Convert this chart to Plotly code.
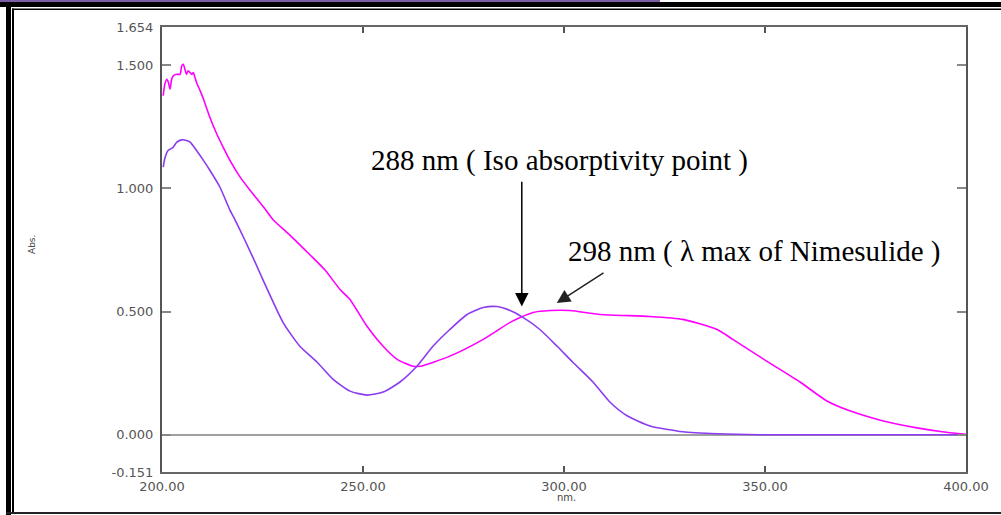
import plotly.graph_objects as go

# ---------------- data ----------------
wl_nimesulide = [200.3, 200.7, 201.2, 201.6, 202.0, 202.4, 202.8, 203.7, 204.5, 204.9,
                 205.3, 205.7, 206.1, 206.5, 207.0, 207.4, 207.8, 208.2, 208.6, 209.5,
                 210.3, 211.9, 213.6, 215.2, 216.9, 219.4, 221.9, 225.2, 227.7, 231.8,
                 236.8, 240.5, 244.3, 246.8, 251.0, 255.0, 258.5, 262.4, 264.2, 271.6,
                 279.9, 286.6, 289.1, 292.3, 296.5, 301.5, 309.0, 321.4, 329.6, 338.1,
                 342.0, 350.5, 358.7, 365.4, 371.1, 379.4, 387.8, 396.0, 400.0]
abs_nimesulide = [1.375, 1.422, 1.442, 1.429, 1.402, 1.442, 1.456, 1.462, 1.462, 1.496,
                  1.503, 1.483, 1.462, 1.476, 1.469, 1.462, 1.469, 1.449, 1.429, 1.395,
                  1.362, 1.288, 1.221, 1.167, 1.113, 1.046, 0.992, 0.925, 0.871, 0.810,
                  0.730, 0.669, 0.589, 0.548, 0.440, 0.359, 0.306, 0.278, 0.278, 0.319,
                  0.387, 0.456, 0.476, 0.496, 0.504, 0.504, 0.488, 0.480, 0.468, 0.427,
                  0.387, 0.298, 0.214, 0.137, 0.097, 0.056, 0.028, 0.008, 0.002]

wl_second = [200.3, 200.7, 201.5, 202.7, 203.7, 204.9, 206.1, 207.0, 208.6, 210.3,
             211.9, 214.4, 216.9, 218.2, 220.6, 223.1, 225.1, 230.1, 234.3, 238.6,
             242.5, 246.8, 251.0, 255.0, 259.2, 263.4, 267.4, 271.6, 275.9, 279.9,
             283.3, 286.6, 289.8, 294.0, 298.3, 302.2, 307.2, 311.4, 315.7, 321.4,
             329.6, 338.1, 348.8, 400.0]
abs_second = [1.086, 1.121, 1.153, 1.165, 1.187, 1.196, 1.194, 1.187, 1.153, 1.113,
              1.073, 1.005, 0.911, 0.871, 0.790, 0.702, 0.629, 0.456, 0.359, 0.294,
              0.226, 0.177, 0.161, 0.173, 0.214, 0.278, 0.359, 0.427, 0.488, 0.516,
              0.520, 0.504, 0.476, 0.427, 0.359, 0.294, 0.214, 0.133, 0.077, 0.036,
              0.012, 0.004, 0.0, 0.0]

x_tick_vals = [200, 250, 300, 350, 400]
x_tick_text = ["200.00", "250.00", "300.00", "350.00", "400.00"]
y_tick_vals = [-0.151, 0.0, 0.5, 1.0, 1.5, 1.654]
y_tick_text = ["-0.151", "0.000", "0.500", "1.000", "1.500", "1.654"]

iso_point = (289.5, 0.520)
iso_label_anchor = (289.5, 1.032)
lmax_point = (298.2, 0.534)
lmax_label_anchor = (310.2, 0.661)

# ---------------- layout helpers ----------------
W, H = 1001, 515
L, R, T, B = 162, 35, 27, 43
PW, PH = W - L - R, H - T - B


def px(xp):
    return (xp - L) / PW


def py(yp):
    return (H - B - yp) / PH


fig = go.Figure()
fig.add_trace(go.Scatter(x=wl_nimesulide, y=abs_nimesulide, mode="lines",
                         line=dict(color="#ff00ff", width=1.6, shape="spline", smoothing=0.6),
                         showlegend=False))
fig.add_trace(go.Scatter(x=wl_second, y=abs_second, mode="lines",
                         line=dict(color="#8c3cf0", width=1.6, shape="spline", smoothing=0.6),
                         showlegend=False))

tick_font = dict(family="DejaVu Sans", size=13, color="#555555")
fig.update_xaxes(range=[200, 400], tickvals=x_tick_vals, ticktext=x_tick_text,
                 showgrid=False, zeroline=False, showline=True, linecolor="#666666",
                 linewidth=2, mirror="ticks", ticks="inside", ticklen=6, tickwidth=2,
                 tickcolor="#555555", tickfont=tick_font, ticklabelstandoff=1)
fig.update_yaxes(range=[-0.151, 1.654], tickvals=y_tick_vals, ticktext=y_tick_text,
                 showgrid=False, zeroline=True, zerolinecolor="#a0a0a0", zerolinewidth=2,
                 showline=True, linecolor="#555555", linewidth=2, mirror="ticks",
                 ticks="inside", ticklen=9, tickwidth=2, tickcolor="#888888",
                 tickfont=tick_font, ticklabelstandoff=4)

shapes = [
    # outer frame decoration
    dict(type="rect", xref="paper", yref="paper", x0=px(0), x1=px(W), y0=py(2), y1=py(7),
         fillcolor="black", line_width=0, layer="above"),
    dict(type="rect", xref="paper", yref="paper", x0=px(0), x1=px(660), y0=py(0), y1=py(2),
         fillcolor="#7b5ea7", line_width=0, layer="above"),
    dict(type="rect", xref="paper", yref="paper", x0=px(12), x1=px(W), y0=py(8.5), y1=py(10),
         fillcolor="black", line_width=0, layer="above"),
    dict(type="rect", xref="paper", yref="paper", x0=px(6), x1=px(11), y0=py(2), y1=py(H),
         fillcolor="black", line_width=0, layer="above"),
    dict(type="rect", xref="paper", yref="paper", x0=px(12), x1=px(14), y0=py(8.5), y1=py(514),
         fillcolor="black", line_width=0, layer="above"),
    dict(type="rect", xref="paper", yref="paper", x0=px(6), x1=px(W), y0=py(512), y1=py(514),
         fillcolor="#222222", line_width=0, layer="above"),
]

serif = dict(family="Liberation Serif", size=29, color="black")
annotations = [
    dict(x=iso_point[0], y=iso_point[1], ax=iso_label_anchor[0], ay=iso_label_anchor[1],
         xref="x", yref="y", axref="x", ayref="y", text="", showarrow=True,
         arrowhead=2, arrowsize=1.8, arrowwidth=1.5, arrowcolor="black"),
    dict(x=lmax_point[0], y=lmax_point[1], ax=lmax_label_anchor[0], ay=lmax_label_anchor[1],
         xref="x", yref="y", axref="x", ayref="y", text="", showarrow=True,
         arrowhead=2, arrowsize=1.8, arrowwidth=1.5, arrowcolor="#222222"),
    dict(x=px(559), y=py(160), xref="paper", yref="paper", showarrow=False,
         xanchor="center", yanchor="middle",
         text="288 nm ( Iso absorptivity point )", font=serif),
    dict(x=px(566), y=py(251), xref="paper", yref="paper", showarrow=False,
         xanchor="left", yanchor="middle",
         text="298 nm ( λ max of Nimesulide )", font=serif),
    dict(x=px(25), y=py(245), xref="paper", yref="paper", showarrow=False, textangle=-90,
         text="Abs.", font=dict(family="DejaVu Sans", size=9, color="#444444")),
    dict(x=px(566), y=py(505), xref="paper", yref="paper", showarrow=False,
         text="nm.", font=dict(family="DejaVu Sans", size=10, color="#444444")),
]

fig.update_layout(width=W, height=H, margin=dict(l=L, r=R, t=T, b=B, pad=0),
                  paper_bgcolor="white", plot_bgcolor="white",
                  shapes=shapes, annotations=annotations)

fig.write_html("out.html")
